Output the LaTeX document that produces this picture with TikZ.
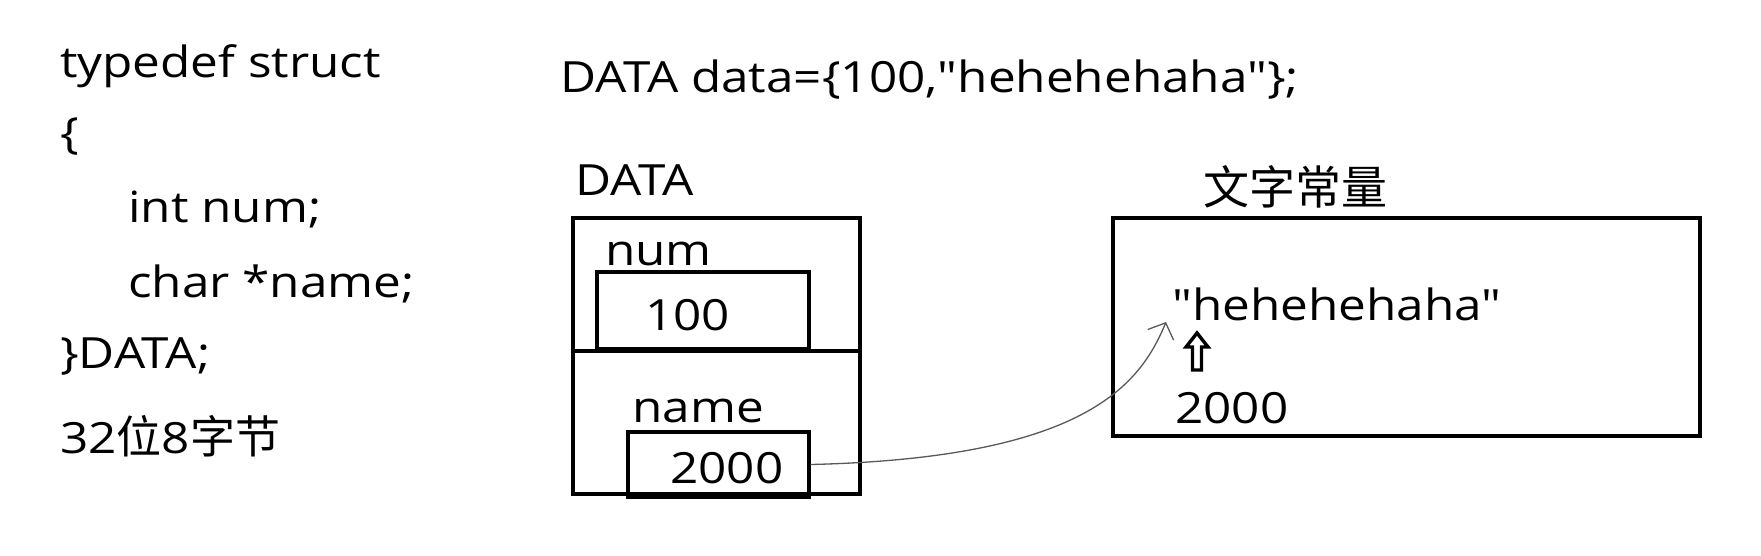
\documentclass[tikz,border=0pt]{standalone}
\usepackage{fontspec}
\newfontfamily\ofont[FakeStretch=1.15]{Open Sans}
\newfontfamily\cjk{Noto Sans CJK SC}
\usetikzlibrary{arrows.meta}
\begin{document}
\begin{tikzpicture}[x=1pt,y=-1pt,
  txt/.style={inner sep=0pt, anchor=base west, font=\ofont\fontsize{43}{50}\selectfont},
  cell/.style={draw=black, line width=3.3pt, inner sep=0pt}]
\useasboundingbox (0,0) rectangle (1761,555);
\fill[white] (0,0) rectangle (1761,555);
% left code
\node[txt] (l1) at (60,77) {typedef struct};
\node[txt] (l2) at (60,148) {\{};
\node[txt] (l3) at (128,222) {int num;};
\node[txt] (l4) at (128,297) {char *name;};
\node[txt] (l5) at (60,368) {\}DATA;};
\node[txt] (l6) at (60,453) {32{\cjk\fontsize{45}{50}\selectfont 位}8{\cjk\fontsize{45}{50}\selectfont 字节}};
% top line
\node[txt] (decl) at (560,92) {DATA data=\{100,"hehehehaha"\};};
% DATA struct
\node[txt] (dlabel) at (575,195) {DATA};
\node[cell, minimum width=287pt, minimum height=276pt] (outer) at (716.5,356) {};
\draw[line width=3.3pt] (outer.west |- 0,351) -- (outer.east |- 0,351);
\node[txt] (numlbl) at (605,265) {num};
\node[cell, minimum width=212pt, minimum height=77pt] (numbox) at (703,310.5) {};
\node[txt] (v100) at (645,330) {100};
\node[txt] (namelbl) at (632,422) {name};
\node[cell, minimum width=181pt, minimum height=65pt] (namebox) at (718.5,464.5) {};
\node[txt] (v2000) at (670,483) {2000};
% string constant area
\node[txt, font=\cjk\fontsize{46}{50}\selectfont] (clabel) at (1203,204) {文字常量};
\node[cell, minimum width=587pt, minimum height=218pt] (cbox) at (1406.5,327) {};
\node[txt] (str) at (1172,320) {"hehehehaha"};
\node[txt] (addr) at (1175,423) {2000};
% hollow up arrow
\draw[line width=3.4pt, line join=miter]
  (1197,333) -- (1208,347) -- (1201.5,347) -- (1201.5,370) -- (1192.5,370) -- (1192.5,347) -- (1186,347) -- cycle;
% connector
\coordinate (tip) at (1166,322);
\draw[line width=1.3pt, color=black!65, -{Straight Barb[length=13pt,width=28pt,line width=1.3pt]}]
  (namebox.east) .. controls (1085,458) and (1140,385) .. (tip);
\end{tikzpicture}
\end{document}
